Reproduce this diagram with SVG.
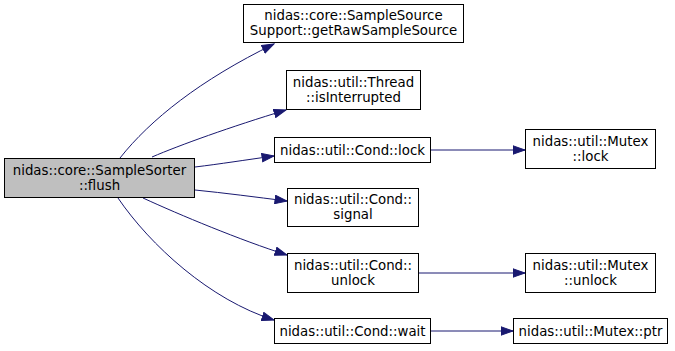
<svg xmlns="http://www.w3.org/2000/svg" width="675" height="351" viewBox="0 0 675 351">
  <style>
    .node rect { fill: #ffffff; stroke: #000000; stroke-width: 1; }
    .node.root rect { fill: #bfbfbf; }
    .node text { font-family: "DejaVu Sans", "Liberation Sans", sans-serif; font-size: 13.33px; fill: #000000; text-anchor: middle; }
    .edge { fill: none; stroke: #191970; stroke-width: 1; marker-end: url(#arrow); }
  </style>
  <defs>
    <marker id="arrow" markerUnits="userSpaceOnUse" markerWidth="14" markerHeight="10" viewBox="0 -5 13 10" refX="12" refY="0" orient="auto">
      <path d="M0,-4.2 L12,0 L0,4.2 z" fill="#191970" stroke="#191970" stroke-width="1"/>
    </marker>
  </defs>
  <rect width="675" height="351" fill="#ffffff"/>

  <g id="edges">
    <path class="edge" d="M120,158 C150,120 200,80 274,44"/>
    <path class="edge" d="M152,157 C180,145 230,127 286,110"/>
    <path class="edge" d="M195,167 C220,164 245,160 274,156"/>
    <path class="edge" d="M195,190 C225,193 255,197 287,201"/>
    <path class="edge" d="M143,198 C180,215 240,240 287,255"/>
    <path class="edge" d="M118,198 C150,245 210,300 274,320"/>
    <path class="edge" d="M431,150 L525,150"/>
    <path class="edge" d="M419,273 L525,273"/>
    <path class="edge" d="M431,331 L513,331"/>
  </g>

  <g id="node-flush" class="node root">
    <rect x="4.5" y="158.5" width="190" height="39"/>
    <text x="99.5" y="174.5">nidas::core::SampleSorter</text>
    <text x="99.5" y="189.5">::flush</text>
  </g>
  <g id="node-getRawSampleSource" class="node">
    <rect x="243.5" y="4.5" width="220" height="38"/>
    <text x="353.5" y="20">nidas::core::SampleSource</text>
    <text x="353.5" y="35">Support::getRawSampleSource</text>
  </g>
  <g id="node-isInterrupted" class="node">
    <rect x="286.5" y="70.5" width="134" height="39"/>
    <text x="353.5" y="86.5">nidas::util::Thread</text>
    <text x="353.5" y="101.5">::isInterrupted</text>
  </g>
  <g id="node-cond-lock" class="node">
    <rect x="274.5" y="137.5" width="156" height="25"/>
    <text x="352.5" y="154.5">nidas::util::Cond::lock</text>
  </g>
  <g id="node-cond-signal" class="node">
    <rect x="287.5" y="188.5" width="131" height="38"/>
    <text x="353" y="204">nidas::util::Cond::</text>
    <text x="353" y="219">signal</text>
  </g>
  <g id="node-cond-unlock" class="node">
    <rect x="287.5" y="253.5" width="131" height="39"/>
    <text x="353" y="269.5">nidas::util::Cond::</text>
    <text x="353" y="284.5">unlock</text>
  </g>
  <g id="node-cond-wait" class="node">
    <rect x="274.5" y="318.5" width="156" height="25"/>
    <text x="352.5" y="335.5">nidas::util::Cond::wait</text>
  </g>
  <g id="node-mutex-lock" class="node">
    <rect x="525.5" y="129.5" width="130" height="39"/>
    <text x="590.5" y="145.5">nidas::util::Mutex</text>
    <text x="590.5" y="160.5">::lock</text>
  </g>
  <g id="node-mutex-unlock" class="node">
    <rect x="525.5" y="253.5" width="130" height="39"/>
    <text x="590.5" y="269.5">nidas::util::Mutex</text>
    <text x="590.5" y="284.5">::unlock</text>
  </g>
  <g id="node-mutex-ptr" class="node">
    <rect x="513.5" y="318.5" width="154" height="25"/>
    <text x="590.5" y="335.5">nidas::util::Mutex::ptr</text>
  </g>
</svg>
